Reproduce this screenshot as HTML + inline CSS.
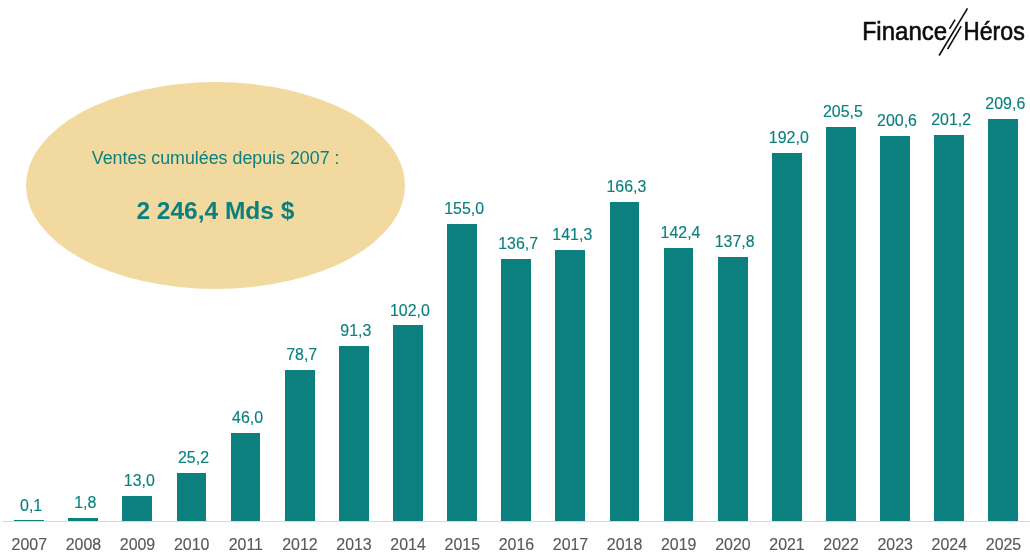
<!DOCTYPE html>
<html><head><meta charset="utf-8"><title>Chart</title>
<style>
html,body{margin:0;padding:0;background:#fff;}
body{width:1030px;height:560px;overflow:hidden;font-family:"Liberation Sans",sans-serif;}
svg{display:block;}
text{font-family:"Liberation Sans",sans-serif;}
.v{font-size:15.8px;fill:#0b807e;stroke:#0b807e;stroke-width:0.15px;text-anchor:middle;}
.y{font-size:15.8px;fill:#595959;stroke:#595959;stroke-width:0.15px;text-anchor:middle;}
</style></head><body>
<svg width="1030" height="560" viewBox="0 0 1030 560">
<rect x="0" y="0" width="1030" height="560" fill="#ffffff"/>

<rect x="2" y="521" width="1028" height="1" fill="#d9d9d9"/>
<rect x="14" y="520" width="30" height="1" fill="#0b807e"/>
<rect x="68" y="518" width="30" height="3" fill="#0b807e"/>
<rect x="122" y="496" width="30" height="25" fill="#0b807e"/>
<rect x="177" y="473" width="29" height="48" fill="#0b807e"/>
<rect x="231" y="433" width="29" height="88" fill="#0b807e"/>
<rect x="285" y="370" width="30" height="151" fill="#0b807e"/>
<rect x="339" y="346" width="30" height="175" fill="#0b807e"/>
<rect x="393" y="325" width="30" height="196" fill="#0b807e"/>
<rect x="447" y="224" width="30" height="297" fill="#0b807e"/>
<rect x="501" y="259" width="30" height="262" fill="#0b807e"/>
<rect x="555" y="250" width="30" height="271" fill="#0b807e"/>
<rect x="610" y="202" width="29" height="319" fill="#0b807e"/>
<rect x="664" y="248" width="29" height="273" fill="#0b807e"/>
<rect x="718" y="257" width="30" height="264" fill="#0b807e"/>
<rect x="772" y="153" width="30" height="368" fill="#0b807e"/>
<rect x="826" y="127" width="30" height="394" fill="#0b807e"/>
<rect x="880" y="136" width="30" height="385" fill="#0b807e"/>
<rect x="934" y="135" width="30" height="386" fill="#0b807e"/>
<rect x="988" y="119" width="30" height="402" fill="#0b807e"/>
<ellipse cx="215.5" cy="185.5" rx="189.5" ry="103.5" fill="#f2d9a0"/>
<g opacity="0.999">
<text class="v" transform="translate(31.1,510.9) scale(1.01,1)">0,1</text>
<text class="y" transform="translate(29.3,550) scale(1.01,1)">2007</text>
<text class="v" transform="translate(85.2,507.6) scale(1.01,1)">1,8</text>
<text class="y" transform="translate(83.4,550) scale(1.01,1)">2008</text>
<text class="v" transform="translate(139.3,486.2) scale(1.01,1)">13,0</text>
<text class="y" transform="translate(137.5,550) scale(1.01,1)">2009</text>
<text class="v" transform="translate(193.5,462.8) scale(1.01,1)">25,2</text>
<text class="y" transform="translate(191.7,550) scale(1.01,1)">2010</text>
<text class="v" transform="translate(247.6,422.9) scale(1.01,1)">46,0</text>
<text class="y" transform="translate(245.8,550) scale(1.01,1)">2011</text>
<text class="v" transform="translate(301.7,360.2) scale(1.01,1)">78,7</text>
<text class="y" transform="translate(299.9,550) scale(1.01,1)">2012</text>
<text class="v" transform="translate(355.8,336.0) scale(1.01,1)">91,3</text>
<text class="y" transform="translate(354.0,550) scale(1.01,1)">2013</text>
<text class="v" transform="translate(409.9,315.5) scale(1.01,1)">102,0</text>
<text class="y" transform="translate(408.1,550) scale(1.01,1)">2014</text>
<text class="v" transform="translate(464.1,213.8) scale(1.01,1)">155,0</text>
<text class="y" transform="translate(462.3,550) scale(1.01,1)">2015</text>
<text class="v" transform="translate(518.2,248.9) scale(1.01,1)">136,7</text>
<text class="y" transform="translate(516.4,550) scale(1.01,1)">2016</text>
<text class="v" transform="translate(572.3,240.1) scale(1.01,1)">141,3</text>
<text class="y" transform="translate(570.5,550) scale(1.01,1)">2017</text>
<text class="v" transform="translate(626.4,192.1) scale(1.01,1)">166,3</text>
<text class="y" transform="translate(624.6,550) scale(1.01,1)">2018</text>
<text class="v" transform="translate(680.5,238.0) scale(1.01,1)">142,4</text>
<text class="y" transform="translate(678.7,550) scale(1.01,1)">2019</text>
<text class="v" transform="translate(734.7,246.8) scale(1.01,1)">137,8</text>
<text class="y" transform="translate(732.9,550) scale(1.01,1)">2020</text>
<text class="v" transform="translate(788.8,142.9) scale(1.01,1)">192,0</text>
<text class="y" transform="translate(787.0,550) scale(1.01,1)">2021</text>
<text class="v" transform="translate(842.9,117.0) scale(1.01,1)">205,5</text>
<text class="y" transform="translate(841.1,550) scale(1.01,1)">2022</text>
<text class="v" transform="translate(897.0,126.4) scale(1.01,1)">200,6</text>
<text class="y" transform="translate(895.2,550) scale(1.01,1)">2023</text>
<text class="v" transform="translate(951.1,125.2) scale(1.01,1)">201,2</text>
<text class="y" transform="translate(949.3,550) scale(1.01,1)">2024</text>
<text class="v" transform="translate(1005.3,109.1) scale(1.01,1)">209,6</text>
<text class="y" transform="translate(1003.5,550) scale(1.01,1)">2025</text>
<text x="91.8" y="164.1" font-size="17.6" fill="#0b807e" textLength="247.7" lengthAdjust="spacingAndGlyphs">Ventes cumulées depuis 2007 :</text>
<text x="136.4" y="218.6" font-size="23" font-weight="bold" fill="#0b807e" textLength="158" lengthAdjust="spacingAndGlyphs">2 246,4 Mds $</text>
<g fill="#0d0d0d" stroke="#0d0d0d" stroke-width="0.6" stroke-linejoin="round">
<text x="862.2" y="39.6" font-size="25.2" textLength="85" lengthAdjust="spacingAndGlyphs">F<tspan font-size="26.2">inance</tspan></text>
<text x="963.5" y="39.6" font-size="25.2" textLength="61.3" lengthAdjust="spacingAndGlyphs">H<tspan font-size="26.2">éros</tspan></text>
</g>
<g stroke="#0d0d0d" stroke-width="1.6" stroke-linecap="butt" fill="none">
<line x1="939.1" y1="55.5" x2="967.5" y2="8.4"/>
<line x1="947.6" y1="49.1" x2="961.2" y2="26.2"/>
<line x1="949.5" y1="28.9" x2="955.1" y2="19.6"/>
</g>
</g>
</svg></body></html>
